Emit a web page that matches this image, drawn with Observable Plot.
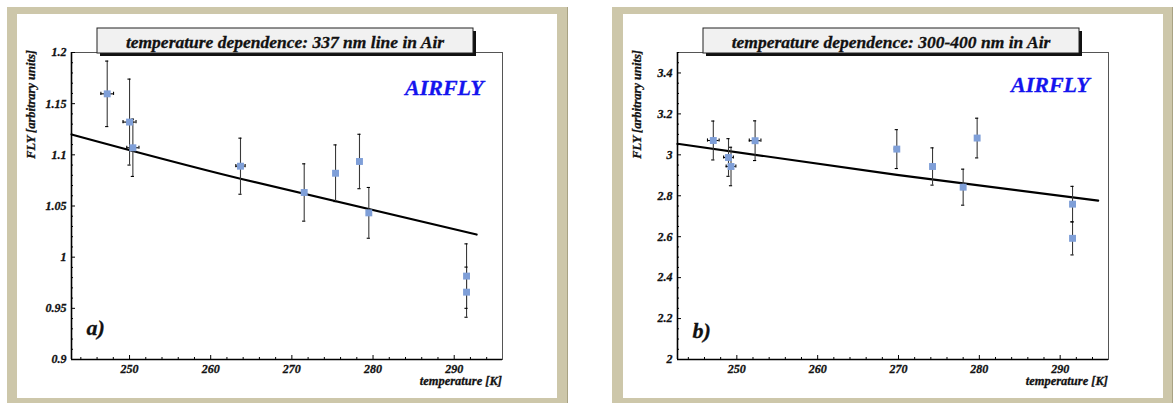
<!DOCTYPE html>
<html>
<head>
<meta charset="utf-8">
<script src="https://cdn.jsdelivr.net/npm/d3@7"></script>
<script src="https://cdn.jsdelivr.net/npm/@observablehq/plot@0.6"></script>
<style>
  html, body { margin: 0; padding: 0; background: #ffffff; }
  body { width: 1174px; height: 403px; position: relative; overflow: hidden; }
  .outer { position: absolute; background: #cdc7aa; border-right: 1px solid #a8a283; box-sizing: border-box; }
  .inner { position: absolute; background: #ffffff; }
  .inner svg { display: block; }
  .inner svg text { stroke: currentColor; stroke-width: 0.3px; paint-order: stroke; }
</style>
</head>
<body>
<div class="outer" style="left:7px;top:7px;width:561px;height:400px;"></div>
<div class="inner" id="panelA" style="left:17px;top:14px;width:540px;height:384px;"></div>
<div class="outer" style="left:612px;top:7px;width:561px;height:400px;"></div>
<div class="inner" id="panelB" style="left:623px;top:14px;width:540px;height:384px;"></div>
<script>
// ---------- data: panel a) 337 nm line in Air ----------
const tempA  = [247.25, 250.0, 250.41, 263.67, 271.52, 275.38, 278.33, 279.48, 291.52, 291.52];
const flyA   = [1.1596, 1.132, 1.1069, 1.0889, 1.0632, 1.082, 1.0935, 1.0433, 0.9815, 0.9658];
const errA   = [0.032, 0.042, 0.028, 0.0274, 0.028, 0.0277, 0.0266, 0.0248, 0.0315, 0.0245];
const xerrA  = [0.78, 0.8, 0.75, 0.57, 0, 0, 0, 0, 0, 0];
const fitTempA = [242.85, 263.67, 292.76];
const fitFlyA  = [1.1199, 1.0766, 1.0221];
const yTicksA  = [0.9, 0.95, 1, 1.05, 1.1, 1.15, 1.2];

// ---------- data: panel b) 300-400 nm in Air ----------
const tempB  = [247.09, 248.97, 249.28, 252.26, 269.79, 274.21, 278.0, 279.73, 291.53, 291.53];
const flyB   = [3.070, 2.987, 2.943, 3.069, 3.028, 2.943, 2.842, 3.082, 2.759, 2.592];
const errB   = [0.095, 0.092, 0.094, 0.097, 0.095, 0.091, 0.088, 0.097, 0.087, 0.081];
const xerrB  = [0.72, 0.6, 0.6, 0.72, 0.3, 0, 0, 0, 0, 0];
const fitTempB = [242.66, 269.8, 294.7];
const fitFlyB  = [3.054, 2.902, 2.776];
const yTicksB  = [2, 2.2, 2.4, 2.6, 2.8, 3, 3.2, 3.4];

const xTicks = [250, 260, 270, 280, 290];

const W = 540, H = 384, mL = 54, mR = 55, mT = 38, mB = 39;
const PW = W - mL - mR, PH = H - mT - mB;

function panel(opts) {
  const {temp, fly, err, xerr, fitT, fitF, xDomain, yDomain, yTicks, yMinorStep, xMinorStep,
         title, letter, airflyBase, letterBase} = opts;
  const rows = temp.map((t, i) => ({t, f: fly[i], e: err[i], xe: xerr[i]}));
  const xrows = rows.filter(d => d.xe > 0);
  const fit = fitT.map((t, i) => ({t, f: fitF[i]}));
  const capX = 1.6 * (xDomain[1] - xDomain[0]) / PW;
  const capY = 1.6 * (yDomain[1] - yDomain[0]) / PH;
  const round = v => Math.round(v * 1e6) / 1e6;
  const xMinor = d3.range(Math.ceil(xDomain[0] / xMinorStep) * xMinorStep, xDomain[1], xMinorStep)
    .map(round).filter(v => !xTicks.includes(v));
  const yMinor = d3.range(yDomain[0], yDomain[1] + 1e-9, yMinorStep)
    .map(round).filter(v => !yTicks.some(t => Math.abs(t - v) < 1e-9));
  const errColor = "#3a3a3a";

  const svg = Plot.plot({
    width: W, height: H,
    marginLeft: mL, marginRight: mR, marginTop: mT, marginBottom: mB,
    x: {domain: xDomain},
    y: {domain: yDomain},
    style: {fontFamily: "'Liberation Serif', 'DejaVu Serif', serif", fontSize: "12px",
            fontStyle: "italic", fontWeight: "bold", background: "white", color: "#111", overflow: "visible"},
    marks: [
      Plot.frame({stroke: "#555", strokeWidth: 1}),
      Plot.tickX(xMinor, {x: d => d, insetTop: PH - 2, stroke: "black"}),
      Plot.tickX(xTicks, {x: d => d, insetTop: PH - 4, stroke: "black"}),
      Plot.tickY(yMinor, {y: d => d, insetRight: PW - 2, stroke: "black"}),
      Plot.tickY(yTicks, {y: d => d, insetRight: PW - 4, stroke: "black"}),
      Plot.ruleX([xDomain[0]], {stroke: "black", strokeWidth: 1.6}),
      Plot.ruleY([yDomain[0]], {stroke: "black", strokeWidth: 1.6}),
      Plot.axisX({ticks: xTicks, tickSize: 0, tickPadding: 5, tickFormat: d => String(d), label: null}),
      Plot.axisY({ticks: yTicks, tickSize: 0, tickPadding: 5, tickFormat: d => String(d), label: null}),
      Plot.line(fit, {x: "t", y: "f", stroke: "black", strokeWidth: 2.2, curve: "natural"}),
      Plot.ruleX(rows, {x: "t", y1: d => d.f - d.e, y2: d => d.f + d.e, stroke: errColor, strokeWidth: 1.1}),
      Plot.ruleY(rows, {y: d => d.f + d.e, x1: d => d.t - capX, x2: d => d.t + capX, stroke: "black", strokeWidth: 1.1}),
      Plot.ruleY(rows, {y: d => d.f - d.e, x1: d => d.t - capX, x2: d => d.t + capX, stroke: "black", strokeWidth: 1.1}),
      Plot.ruleY(xrows, {y: "f", x1: d => d.t - d.xe, x2: d => d.t + d.xe, stroke: "black", strokeWidth: 1.1}),
      Plot.ruleX(xrows, {x: d => d.t - d.xe, y1: d => d.f - capY, y2: d => d.f + capY, stroke: "black", strokeWidth: 1.1}),
      Plot.ruleX(xrows, {x: d => d.t + d.xe, y1: d => d.f - capY, y2: d => d.f + capY, stroke: "black", strokeWidth: 1.1}),
      Plot.dot(rows, {x: "t", y: "f", symbol: "square", r: 3.9, fill: "#7f9fd8", stroke: "none"})
    ]
  });

  const s = d3.select(svg);
  const font = "'Liberation Serif', 'DejaVu Serif', serif";
  // title box with drop shadow
  const bx = 80, by = 14, bw = 376, bh = 25;
  const g = s.append("g");
  g.append("rect").attr("x", bx + 3).attr("y", by + 3).attr("width", bw).attr("height", bh).attr("fill", "#111");
  g.append("rect").attr("x", bx).attr("y", by).attr("width", bw).attr("height", bh)
    .attr("fill", "#f1f1f1").attr("stroke", "#222").attr("stroke-width", 1);
  g.append("text").attr("x", bx + bw / 2).attr("y", by + 20).attr("text-anchor", "middle")
    .attr("font-family", font).attr("font-size", 17.5).attr("font-style", "italic").attr("font-weight", "bold")
    .style("color", "#111").attr("fill", "#111").text(title);
  // AIRFLY
  s.append("text").attr("x", 388).attr("y", airflyBase).attr("text-anchor", "start")
    .attr("font-family", font).attr("font-size", 22).attr("font-style", "italic").attr("font-weight", "bold")
    .style("color", "#1414ee").attr("fill", "#1414ee").text("AIRFLY");
  // panel letter
  s.append("text").attr("x", 69.5).attr("y", letterBase).attr("text-anchor", "start")
    .attr("font-family", font).attr("font-size", 22).attr("font-style", "italic").attr("font-weight", "bold")
    .style("color", "#111").attr("fill", "#111").text(letter);
  // axis labels
  s.append("text").attr("transform", "translate(18,36) rotate(-90)").attr("text-anchor", "end")
    .attr("font-family", font).attr("font-size", 12.5).attr("font-style", "italic").attr("font-weight", "bold")
    .style("color", "#111").attr("fill", "#111").text("FLY [arbitrary units]");
  s.append("text").attr("x", W - mR).attr("y", 371).attr("text-anchor", "end")
    .attr("font-family", font).attr("font-size", 12.5).attr("font-style", "italic").attr("font-weight", "bold")
    .style("color", "#111").attr("fill", "#111").text("temperature [K]");
  return svg;
}

document.getElementById("panelA").appendChild(panel({
  temp: tempA, fly: flyA, err: errA, xerr: xerrA, fitT: fitTempA, fitF: fitFlyA,
  xDomain: [242.85, 295.95], yDomain: [0.9, 1.2], yTicks: yTicksA, yMinorStep: 0.01, xMinorStep: 2,
  title: "temperature dependence: 337 nm line in Air", letter: "a)", airflyBase: 81, letterBase: 321
}));
document.getElementById("panelB").appendChild(panel({
  temp: tempB, fly: flyB, err: errB, xerr: xerrB, fitT: fitTempB, fitF: fitFlyB,
  xDomain: [242.66, 295.98], yDomain: [2, 3.5], yTicks: yTicksB, yMinorStep: 0.05, xMinorStep: 2,
  title: "temperature dependence: 300-400 nm in Air", letter: "b)", airflyBase: 78, letterBase: 324
}));
</script>
</body>
</html>
